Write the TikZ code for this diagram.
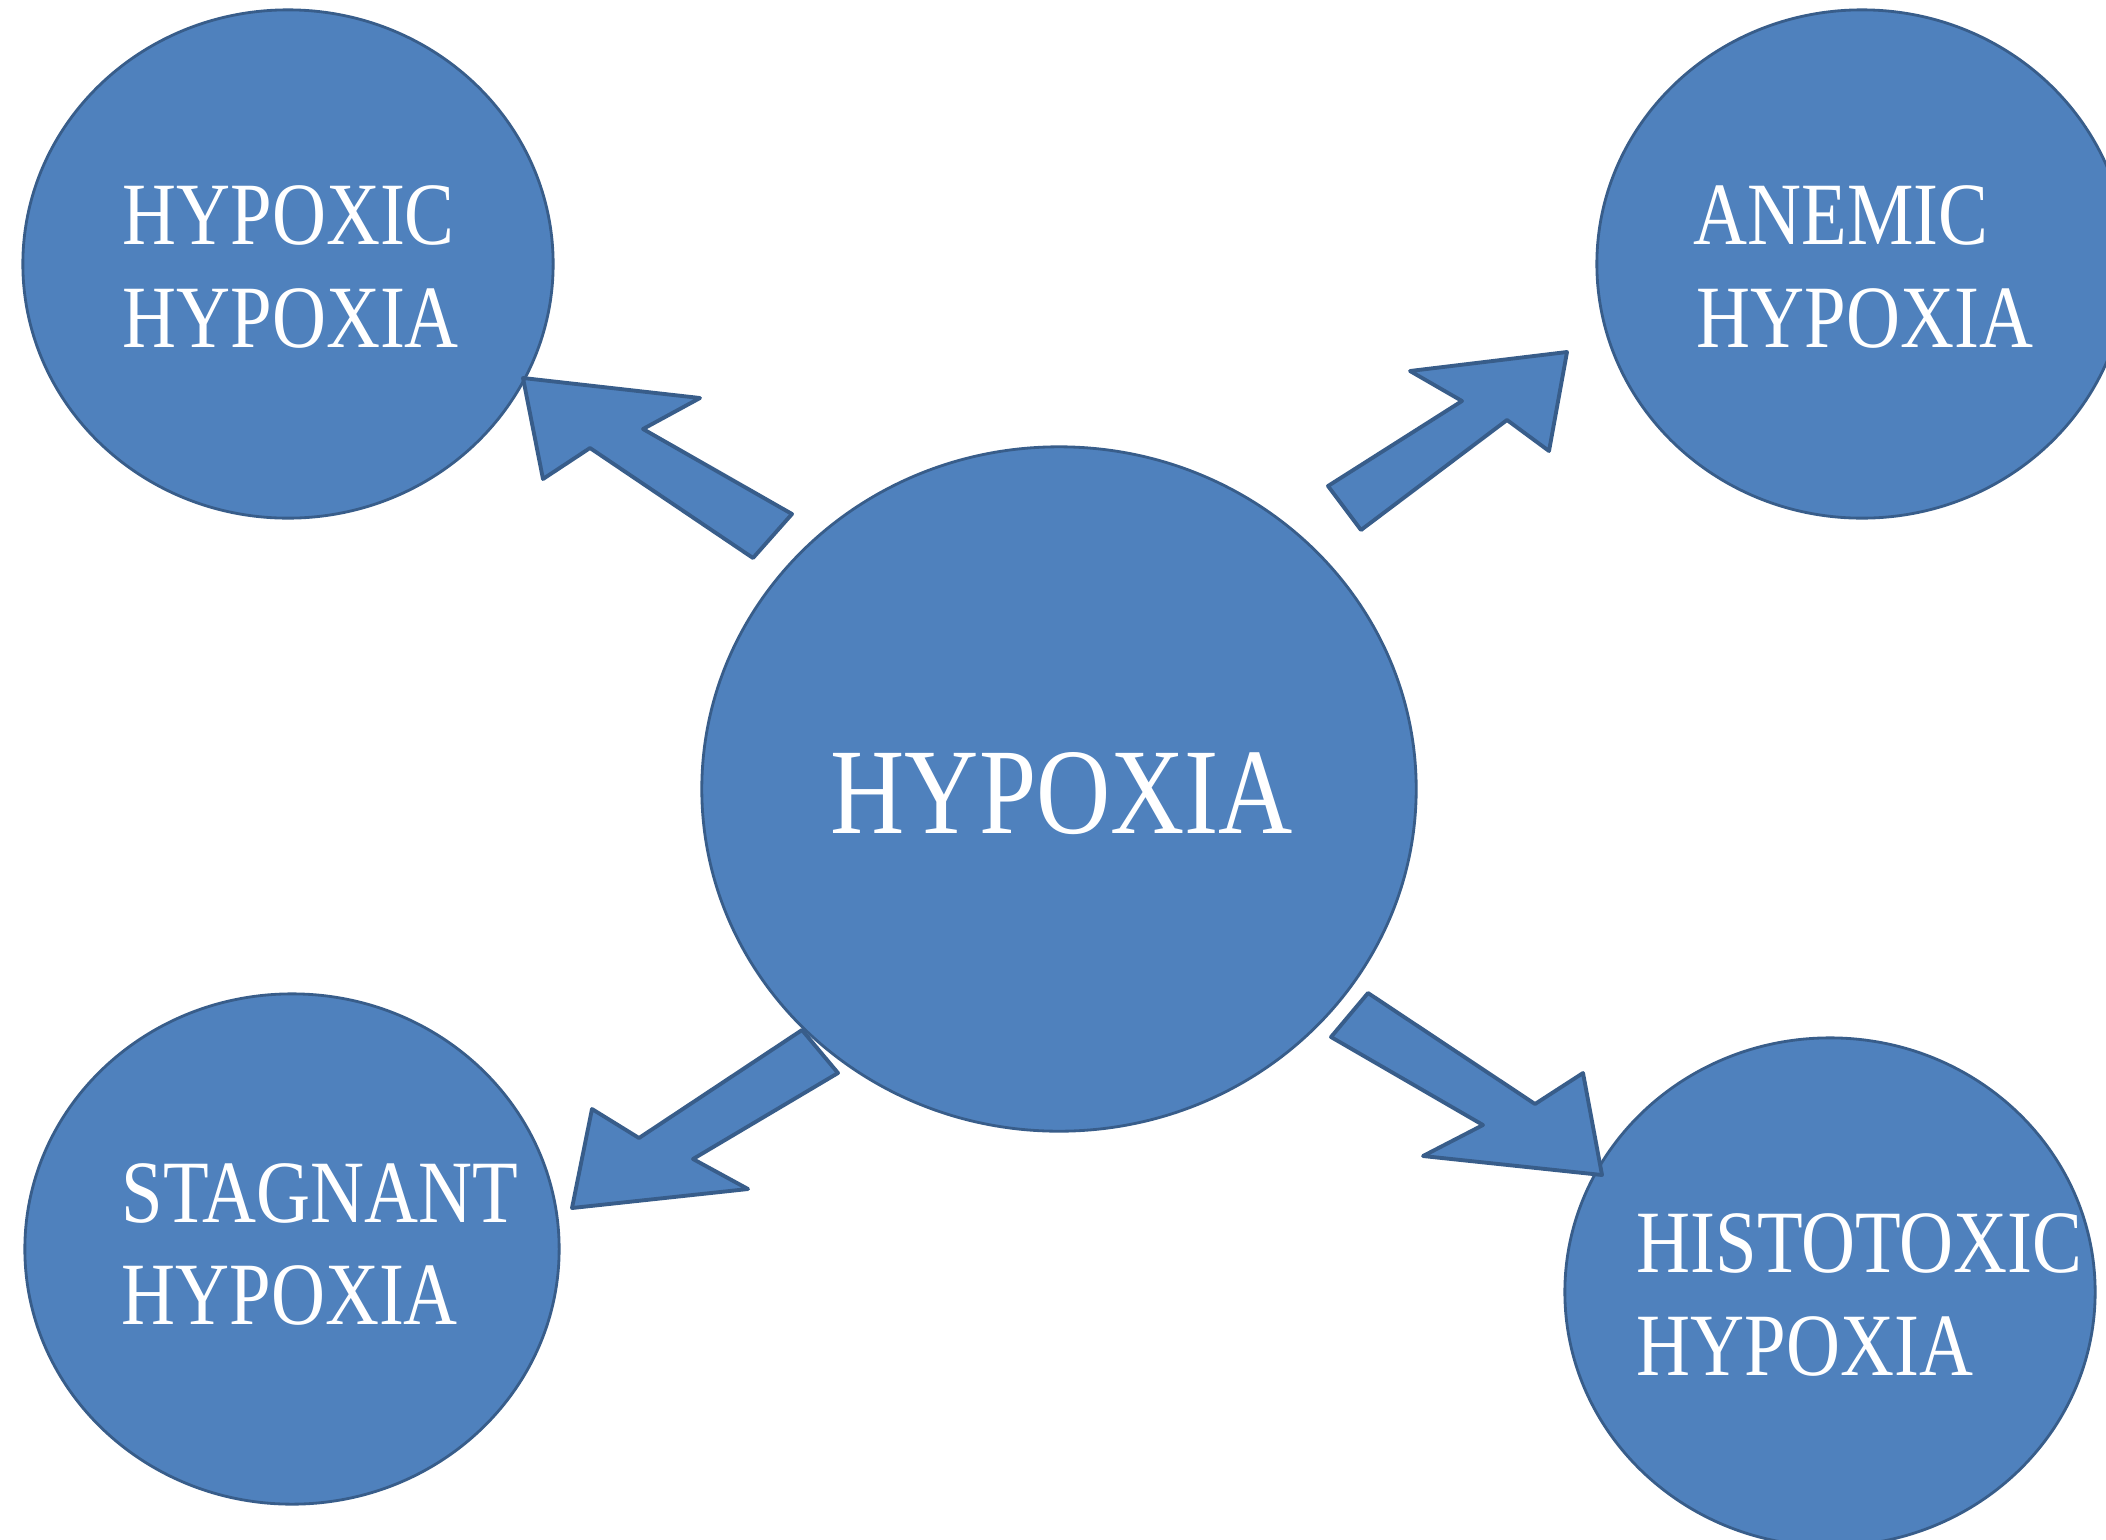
\documentclass[tikz,border=0pt]{standalone}
\usepackage{fontspec}
\usetikzlibrary{shapes.geometric}
\newfontfamily\lblfont[FakeStretch=0.84]{Liberation Serif}
\definecolor{bluefill}{HTML}{4F81BD}
\definecolor{blueline}{HTML}{385D8A}
\tikzset{
  bubble/.style={ellipse, fill=bluefill, draw=blueline, line width=0.8pt, inner sep=0pt},
  blockarrow/.style={fill=bluefill, draw=blueline, line width=1.1pt, line join=round},
  smalllbl/.style={anchor=base west, inner sep=0pt, text=white, font=\lblfont\fontsize{25.3}{30}\selectfont},
  biglbl/.style={anchor=base west, inner sep=0pt, text=white, font=\lblfont\fontsize{34.8}{40}\selectfont}
}
\begin{document}
\begin{tikzpicture}[x=0.01cm, y=-0.01cm]
\useasboundingbox (0,0) rectangle (2106,1539);
\clip (0,0) rectangle (2106,1539);
\fill[white] (0,0) rectangle (2106,1539);
% bubbles
\node[bubble, minimum width=5.30cm, minimum height=5.08cm] (hypoxic) at (288,264) {};
\node[bubble, minimum width=5.30cm, minimum height=5.08cm] (anemic) at (1862,264) {};
\node[bubble, minimum width=5.34cm, minimum height=5.10cm] (stagnant) at (292,1249) {};
\node[bubble, minimum width=5.30cm, minimum height=5.08cm] (histo) at (1830,1292) {};
\node[bubble, minimum width=7.14cm, minimum height=6.84cm] (center) at (1059,789) {};
% block arrows
\draw[blockarrow] (523,378) -- (700,398) -- (643,429) -- (792,514) -- (753,558) -- (590,448) -- (543,479) -- cycle;
\draw[blockarrow] (1567,352) -- (1549,451) -- (1507,420) -- (1361,530) -- (1328,486) -- (1462,401) -- (1410,371) -- cycle;
\draw[blockarrow] (1602,1175) -- (1423,1156) -- (1483,1125) -- (1331,1037) -- (1368,993) -- (1535,1104) -- (1583,1073) -- cycle;
\draw[blockarrow] (572,1208) -- (592,1109) -- (639,1138) -- (802,1030) -- (838,1073) -- (693,1159) -- (748,1189) -- cycle;
% labels
\node[smalllbl] (hypoxicA) at (122,244) {HYPOXIC};
\node[smalllbl] (hypoxicB) at (122,347) {HYPOXIA};
\node[smalllbl] (anemicA) at (1693,244) {ANEMIC};
\node[smalllbl] (anemicB) at (1696,347) {HYPOXIA};
\node[smalllbl] (stagA) at (121,1222) {STAGNANT};
\node[smalllbl] (stagB) at (121,1324) {HYPOXIA};
\node[smalllbl] (histoA) at (1636,1272) {HISTOTOXIC};
\node[smalllbl] (histoB) at (1636,1375) {HYPOXIA};
\node[biglbl] (centerlbl) at (830,833) {HYPOXIA};
\end{tikzpicture}
\end{document}
